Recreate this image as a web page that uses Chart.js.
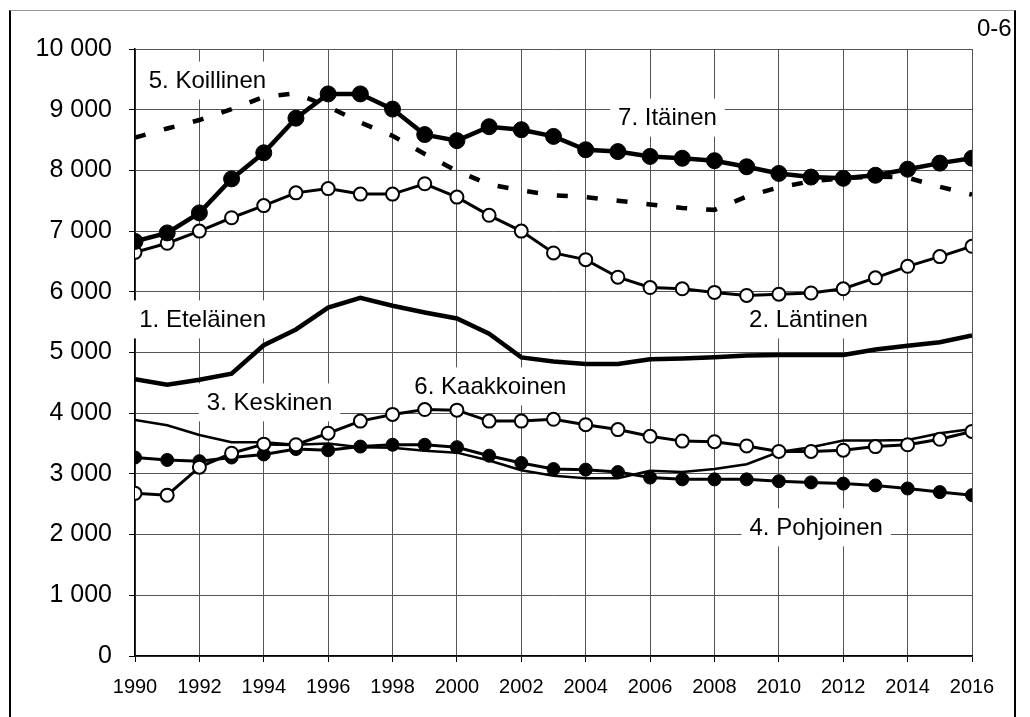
<!DOCTYPE html>
<html>
<head>
<meta charset="utf-8">
<script src="https://cdn.jsdelivr.net/npm/chart.js@4"></script>
<style>
  body { margin: 0; background: #fff; }
  #wrap { position: relative; width: 1030px; height: 717px; }
  #frame {
    position: absolute; left: 9px; top: 10px; width: 1003px; height: 720px;
    border-left: 2px solid #000; border-right: 2px solid #000; border-top: 1px solid #999;
    pointer-events: none;
  }
</style>
</head>
<body>
<div id="wrap">
  <canvas id="myChart" width="1030" height="717"></canvas>
  <div id="frame"></div>
</div>
<script>
// vuodet ja sarjat
const years = [1990, 1991, 1992, 1993, 1994, 1995, 1996, 1997, 1998, 1999, 2000, 2001, 2002, 2003,
    2004, 2005, 2006, 2007, 2008, 2009, 2010, 2011, 2012, 2013, 2014, 2015, 2016];

const etelainen = [4560, 4470, 4550, 4650, 5120, 5380, 5740, 5900, 5770, 5660, 5560, 5310, 4920, 4850,
    4810, 4810, 4890, 4900, 4920, 4950, 4960, 4960, 4960, 5050, 5110, 5170, 5280];
const lantinen = [6650, 6800, 7000, 7220, 7420, 7630, 7700, 7610, 7610, 7780, 7560, 7260, 7000, 6640,
    6530, 6240, 6070, 6050, 5990, 5940, 5960, 5980, 6050, 6230, 6420, 6580, 6750];
const keskinen = [3890, 3800, 3640, 3520, 3520, 3480, 3500, 3440, 3430, 3380, 3350, 3220, 3060, 2970,
    2930, 2930, 3050, 3030, 3080, 3160, 3360, 3440, 3550, 3550, 3560, 3670, 3740];
const pohjoinen = [3270, 3230, 3210, 3270, 3320, 3410, 3390, 3450, 3480, 3480, 3440, 3300, 3180, 3080,
    3070, 3030, 2940, 2910, 2910, 2910, 2880, 2860, 2840, 2810, 2760, 2700, 2650];
const koillinen = [8540, 8690, 8830, 9010, 9210, 9270, 9050, 8790, 8570, 8270, 7990, 7770, 7670, 7590,
    7560, 7500, 7440, 7380, 7350, 7570, 7720, 7820, 7870, 7900, 7880, 7730, 7600];
const kaakkoinen = [2680, 2650, 3110, 3340, 3490, 3480, 3670, 3870, 3980, 4060, 4050, 3870, 3870, 3900,
    3810, 3730, 3620, 3540, 3530, 3460, 3370, 3370, 3390, 3450, 3480, 3570, 3700];
const itainen = [6830, 6970, 7300, 7860, 8290, 8860, 9260, 9260, 9010, 8590, 8490, 8720, 8670, 8560,
    8340, 8310, 8230, 8200, 8160, 8060, 7950, 7890, 7870, 7920, 8020, 8120, 8200];

// tekstit kuvan sisällä (vuosi, arvo)
const labelTexts = ['5. Koillinen', '7. Itäinen', '1. Eteläinen', '3. Keskinen', '6. Kaakkoinen', '2. Läntinen', '4. Pohjoinen'];
const labelYears = [1992.25, 2006.54, 1992.10, 1994.18, 2001.04, 2010.92, 2011.16];
const labelValues = [9480, 8870, 5545, 4178, 4442, 5545, 2119];

const FONT = "'Liberation Sans', Arial, sans-serif";

const toPoints = (arr) => arr.map((v, i) => ({ x: years[i], y: v }));

const formatThousands = (v) => {
    if (v < 1000) return String(v);
    return Math.floor(v / 1000) + ' ' + String(v % 1000).padStart(3, '0');
};

const labelPlugin = {
    id: 'regionLabels',
    beforeDatasetsDraw(chart) {
        const ctx = chart.ctx;
        const xs = chart.scales.x;
        const ys = chart.scales.y;
        ctx.save();
        ctx.font = '24px ' + FONT;
        ctx.textAlign = 'center';
        ctx.textBaseline = 'middle';
        labelTexts.forEach((t, i) => {
            const cx = xs.getPixelForValue(labelYears[i]);
            const cy = ys.getPixelForValue(labelValues[i]);
            const w = ctx.measureText(t).width + 16;
            ctx.fillStyle = '#fff';
            ctx.fillRect(cx - w / 2, cy - 19, w, 38);
            ctx.fillStyle = '#000';
            ctx.fillText(t, cx, cy + 1);
        });
        ctx.restore();
    },
    afterDraw(chart) {
        const ctx = chart.ctx;
        ctx.save();
        ctx.font = '24px ' + FONT;
        ctx.fillStyle = '#000';
        ctx.textAlign = 'left';
        ctx.textBaseline = 'middle';
        ctx.fillText('0-6', 977, 29);
        ctx.restore();
    }
};

const openCircle = { pointRadius: 6.5, pointBackgroundColor: '#fff', pointBorderColor: '#000', pointBorderWidth: 2 };

const data = {
    datasets: [
        { label: '7. Itäinen', data: toPoints(itainen), borderColor: '#000', borderWidth: 4.5,
            pointRadius: 8, pointBackgroundColor: '#000', pointBorderColor: '#000', pointBorderWidth: 1, order: 0 },
        Object.assign({ label: '6. Kaakkoinen', data: toPoints(kaakkoinen), borderColor: '#000', borderWidth: 3, order: 1 }, openCircle),
        Object.assign({ label: '2. Läntinen', data: toPoints(lantinen), borderColor: '#000', borderWidth: 3, order: 2 }, openCircle),
        { label: '4. Pohjoinen', data: toPoints(pohjoinen), borderColor: '#000', borderWidth: 3,
            pointRadius: 6.5, pointBackgroundColor: '#000', pointBorderColor: '#000', pointBorderWidth: 1, order: 3 },
        { label: '3. Keskinen', data: toPoints(keskinen), borderColor: '#000', borderWidth: 2.5, pointRadius: 0, order: 4 },
        { label: '5. Koillinen', data: toPoints(koillinen), borderColor: '#000', borderWidth: 4.5, borderDash: [11, 19],
            borderCapStyle: 'butt', pointRadius: 0, order: 5 },
        { label: '1. Eteläinen', data: toPoints(etelainen), borderColor: '#000', borderWidth: 4.5, pointRadius: 0, order: 6 }
    ]
};

const config = {
    type: 'line',
    data: data,
    options: {
        responsive: false,
        animation: false,
        events: [],
        layout: { padding: { left: 10, top: 49, right: 58, bottom: 0 } },
        elements: { line: { tension: 0, fill: false } },
        plugins: { legend: { display: false }, tooltip: { enabled: false } },
        scales: {
            x: {
                type: 'linear',
                min: 1990,
                max: 2016,
                afterFit: (s) => { s.height = 61; },
                grid: { color: '#555', lineWidth: 1, tickLength: 6, tickColor: '#000' },
                border: { color: '#000', width: 1.5 },
                ticks: {
                    stepSize: 2,
                    padding: 13,
                    color: '#000',
                    maxRotation: 0,
                    font: { family: FONT, size: 20 },
                    callback: (v) => String(v)
                }
            },
            y: {
                min: 0,
                max: 10000,
                afterFit: (s) => { s.width = 125; },
                grid: { color: '#555', lineWidth: 1, tickLength: 6, tickColor: '#000' },
                border: { color: '#000', width: 1.5 },
                ticks: {
                    stepSize: 1000,
                    padding: 17,
                    color: '#000',
                    font: { family: FONT, size: 25 },
                    callback: (v) => formatThousands(v)
                }
            }
        }
    },
    plugins: [labelPlugin]
};

new Chart(document.getElementById('myChart'), config);
</script>
</body>
</html>
